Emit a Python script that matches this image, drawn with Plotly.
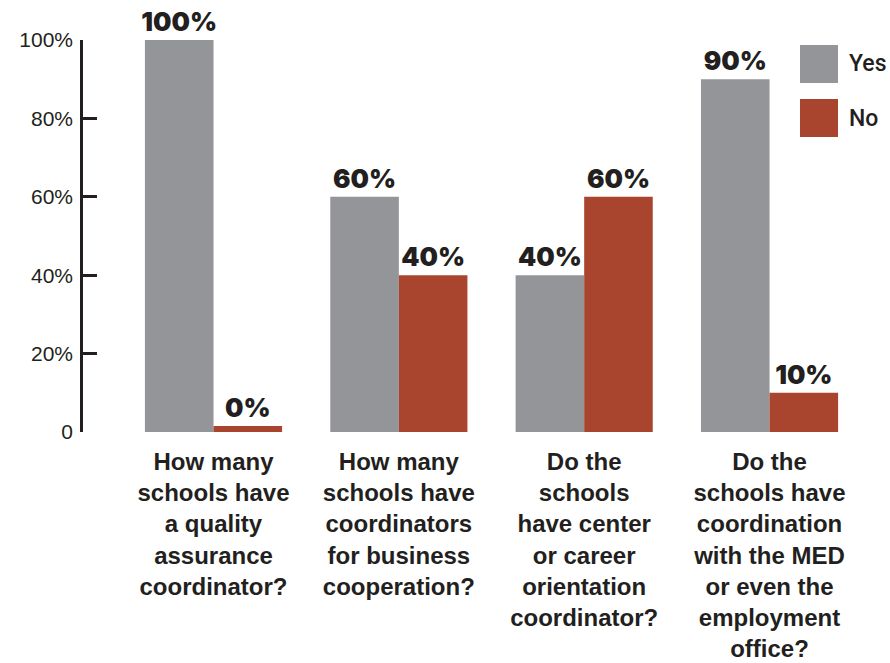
import plotly.graph_objects as go

# Survey questions (x categories), one line per <br>
questions = [
    "How many<br>schools have<br>a quality<br>assurance<br>coordinator?",
    "How many<br>schools have<br>coordinators<br>for business<br>cooperation?",
    "Do the<br>schools<br>have center<br>or career<br>orientation<br>coordinator?",
    "Do the<br>schools have<br>coordination<br>with the MED<br>or even the<br>employment<br>office?",
]

# Share of schools answering, in percent
yes_pct = [100, 60, 40, 90]
no_pct = [0, 40, 60, 10]

series_names = ["Yes", "No"]

# Y axis ticks
y_tickvals = [0, 20, 40, 60, 80, 100]
y_ticktext = ["0", "20%", "40%", "60%", "80%", "100%"]

GREY = "#939598"
RUST = "#a9452f"
INK = "#231f20"
MIN_STUB = 1.5  # keeps zero-valued bars visible as a thin stub

label_font = dict(family="Inter, Lato, Liberation Sans, Arial", size=26, color=INK, weight=900)


def bar_trace(name, values, color):
    return go.Bar(
        name=name,
        x=questions,
        y=[max(v, MIN_STUB) for v in values],
        text=[f"{v}%" for v in values],
        texttemplate="%{text}",
        textposition="outside",
        textfont=label_font,
        constraintext="none",
        cliponaxis=False,
        marker=dict(color=color, line=dict(width=0)),
        hovertemplate="%{x}<br>" + name + ": %{text}<extra></extra>",
    )


fig = go.Figure()
fig.add_trace(bar_trace(series_names[0], yes_pct, GREY))
fig.add_trace(bar_trace(series_names[1], no_pct, RUST))

W, H = 890, 663
L, R, T, B = 83, 0, 40, 231
pw, ph = W - L - R, H - T - B


def px_x(p):
    return (p - L) / pw


def px_y(p):
    return (H - B - p) / ph


# Legend drawn as large swatches beside the last group
shapes = []
annotations = []
for name, color, top in [(series_names[0], GREY, 45), (series_names[1], RUST, 99)]:
    shapes.append(dict(
        type="rect", xref="paper", yref="paper",
        x0=px_x(800), x1=px_x(838), y0=px_y(top + 38), y1=px_y(top),
        fillcolor=color, line=dict(width=0),
    ))
    annotations.append(dict(
        xref="paper", yref="paper", x=px_x(847), y=px_y(top + 19),
        xanchor="left", yanchor="middle", text=name, showarrow=False,
        font=dict(family="Roboto, Liberation Sans, Arial", size=23, color=INK, weight=500),
    ))

fig.update_layout(
    width=W, height=H,
    margin=dict(l=L, r=R, t=T, b=B, pad=0),
    paper_bgcolor="white", plot_bgcolor="white",
    barmode="group",
    bargap=0.26,
    bargroupgap=0,
    showlegend=False,
    shapes=shapes,
    annotations=annotations,
    xaxis=dict(
        range=[-0.7041, 3.65],
        showgrid=False, zeroline=False, showline=False,
        ticks="", ticklabelstandoff=13,
        tickfont=dict(family="Liberation Sans, Arial", size=24, color=INK, weight="bold"),
    ),
    yaxis=dict(
        range=[0, 100],
        tickvals=y_tickvals, ticktext=y_ticktext,
        showgrid=False, zeroline=False,
        showline=True, linecolor=INK, linewidth=2.5,
        ticks="inside", ticklen=14, tickwidth=2.5, tickcolor=INK,
        ticklabelstandoff=3,
        tickfont=dict(family="Liberation Sans, Arial", size=21, color=INK),
    ),
)

fig.write_html("out.html")
